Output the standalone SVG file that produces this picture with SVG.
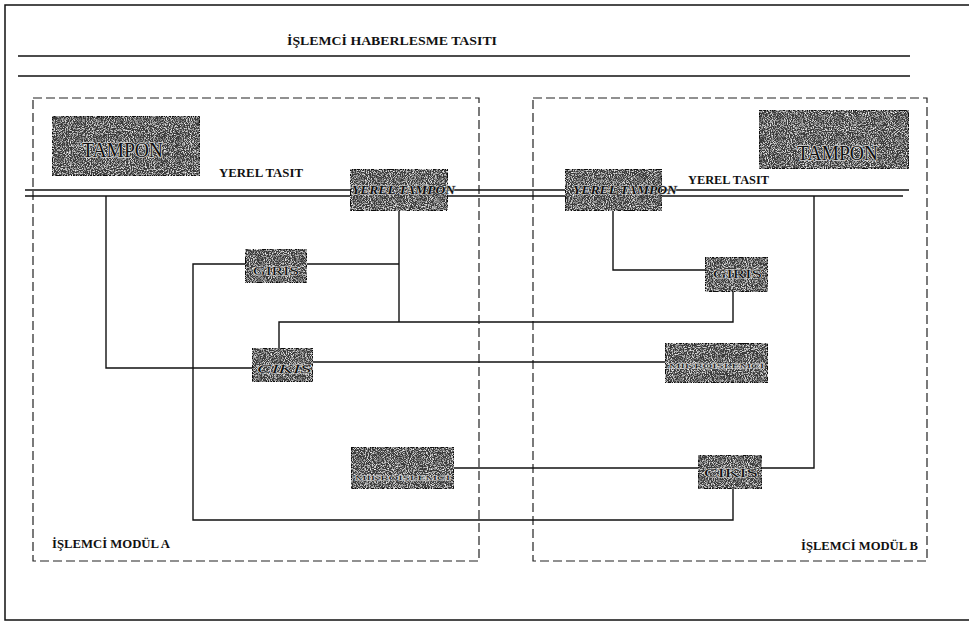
<svg xmlns="http://www.w3.org/2000/svg" width="969" height="623" viewBox="0 0 969 623">
<style>
.frame{fill:none;stroke:#111;stroke-width:1.5}
.line{fill:none;stroke:#111;stroke-width:1.4}
.mod{fill:none;stroke:#222;stroke-width:1.2;stroke-dasharray:9 4}
.conn{fill:none;stroke:#111;stroke-width:1.4}
.box{fill:#3a3a3a;stroke:#0a0a0a;stroke-width:1.8;filter:url(#grain)}
.lbl{font-family:"Liberation Serif","Times New Roman",serif;fill:#111;font-weight:bold}
.in{font-family:"Liberation Serif","Times New Roman",serif;fill:#101010;stroke:#d6d6d6;stroke-width:1.1;paint-order:stroke;stroke-linejoin:round}
.big{stroke-width:1.6}
</style>
<defs>
<filter id="grain" x="0" y="0" width="100%" height="100%">
<feTurbulence type="fractalNoise" baseFrequency="0.95" numOctaves="2" seed="4" result="n"/>
<feColorMatrix in="n" type="matrix" values="0 0 0 0 1 0 0 0 0 1 0 0 0 0 1 2.6 0 0 0 -1.2" result="s"/>
<feComposite in="s" in2="SourceAlpha" operator="in" result="sc"/>
<feMerge><feMergeNode in="SourceGraphic"/><feMergeNode in="sc"/></feMerge>
</filter>
</defs>
<rect width="969" height="623" fill="#fff"/>
<path class="frame" d="M969 5 H5 V620 H969"/>
<text class="lbl" x="287" y="45" font-size="12" font-weight="normal" textLength="210" lengthAdjust="spacingAndGlyphs">İŞLEMCİ HABERLESME TASITI</text>
<line class="line" x1="18" y1="56" x2="910" y2="56"/>
<line class="line" x1="18" y1="76" x2="910" y2="76"/>
<g id="modulA"><rect class="mod" x="33" y="98" width="446" height="463"/><text class="lbl" x="52" y="548" font-size="12" textLength="118" lengthAdjust="spacingAndGlyphs">İŞLEMCİ MODÜL A</text></g>
<g id="modulB"><rect class="mod" x="533" y="98" width="394" height="463"/><text class="lbl" x="801" y="550" font-size="12" textLength="117" lengthAdjust="spacingAndGlyphs">İŞLEMCİ MODÜL B</text></g>
<g id="yerel-tasit">
<line class="line" x1="25" y1="190" x2="909" y2="190"/>
<line class="line" x1="25" y1="196" x2="903" y2="196"/>
<text class="lbl" x="219" y="177" font-size="12" textLength="84" lengthAdjust="spacingAndGlyphs">YEREL TASIT</text>
<text class="lbl" x="688" y="184" font-size="12" textLength="81" lengthAdjust="spacingAndGlyphs">YEREL TASIT</text>
</g>
<g id="connectors">
<path class="conn" d="M106 196 V368 H252"/>
<path class="conn" d="M399 211 V322"/>
<path class="conn" d="M307 264 H399"/>
<path class="conn" d="M245 264 H193 V520 H733 V489"/>
<path class="conn" d="M279 348 V322 H733 V292"/>
<path class="conn" d="M313 362 H665"/>
<path class="conn" d="M613 211 V270 H705"/>
<path class="conn" d="M454 468 H698"/>
<path class="conn" d="M762 468 H814 V196"/>
</g>
<g id="tamponA"><rect class="box" x="52" y="116" width="148" height="60"/><text class="in big" x="82" y="157" font-size="20" textLength="81" lengthAdjust="spacingAndGlyphs">TAMPON</text></g>
<g id="tamponB"><rect class="box" x="759" y="110" width="150" height="59"/><text class="in big" x="797" y="160" font-size="20" textLength="81" lengthAdjust="spacingAndGlyphs">TAMPON</text></g>
<g id="yerelTamponA"><rect class="box" x="350" y="169" width="98" height="42"/><text class="in" x="352" y="194" font-size="13" font-style="italic" font-weight="bold" textLength="103" lengthAdjust="spacingAndGlyphs">YEREL TAMPON</text></g>
<g id="yerelTamponB"><rect class="box" x="565" y="169" width="97" height="42"/><text class="in" x="573" y="194" font-size="13" font-style="italic" font-weight="bold" textLength="104" lengthAdjust="spacingAndGlyphs">YEREL TAMPON</text></g>
<g id="girisA"><rect class="box" x="245" y="249" width="62" height="34"/><text class="in" x="253" y="275" font-size="12" textLength="46" lengthAdjust="spacingAndGlyphs">GIRIS</text></g>
<g id="cikisA"><rect class="box" x="252" y="348" width="61" height="34"/><text class="in" x="257" y="373" font-size="13" font-style="italic" textLength="54" lengthAdjust="spacingAndGlyphs">CIKIS</text></g>
<g id="girisB"><rect class="box" x="705" y="257" width="63" height="35"/><text class="in" x="713" y="278" font-size="12" textLength="49" lengthAdjust="spacingAndGlyphs">GIRIS</text></g>
<g id="mikroB"><rect class="box" x="665" y="343" width="103" height="40"/><text class="in" x="669" y="368" font-size="7" stroke-width="0.6" textLength="95" lengthAdjust="spacingAndGlyphs">MİKROİŞLEMCİ</text></g>
<g id="mikroA"><rect class="box" x="351" y="447" width="103" height="42"/><text class="in" x="355" y="480" font-size="7" stroke-width="0.6" textLength="95" lengthAdjust="spacingAndGlyphs">MİKROİŞLEMCİ</text></g>
<g id="cikisB"><rect class="box" x="698" y="455" width="64" height="34"/><text class="in" x="704" y="477" font-size="12" textLength="54" lengthAdjust="spacingAndGlyphs">CIKIS</text></g>
</svg>
